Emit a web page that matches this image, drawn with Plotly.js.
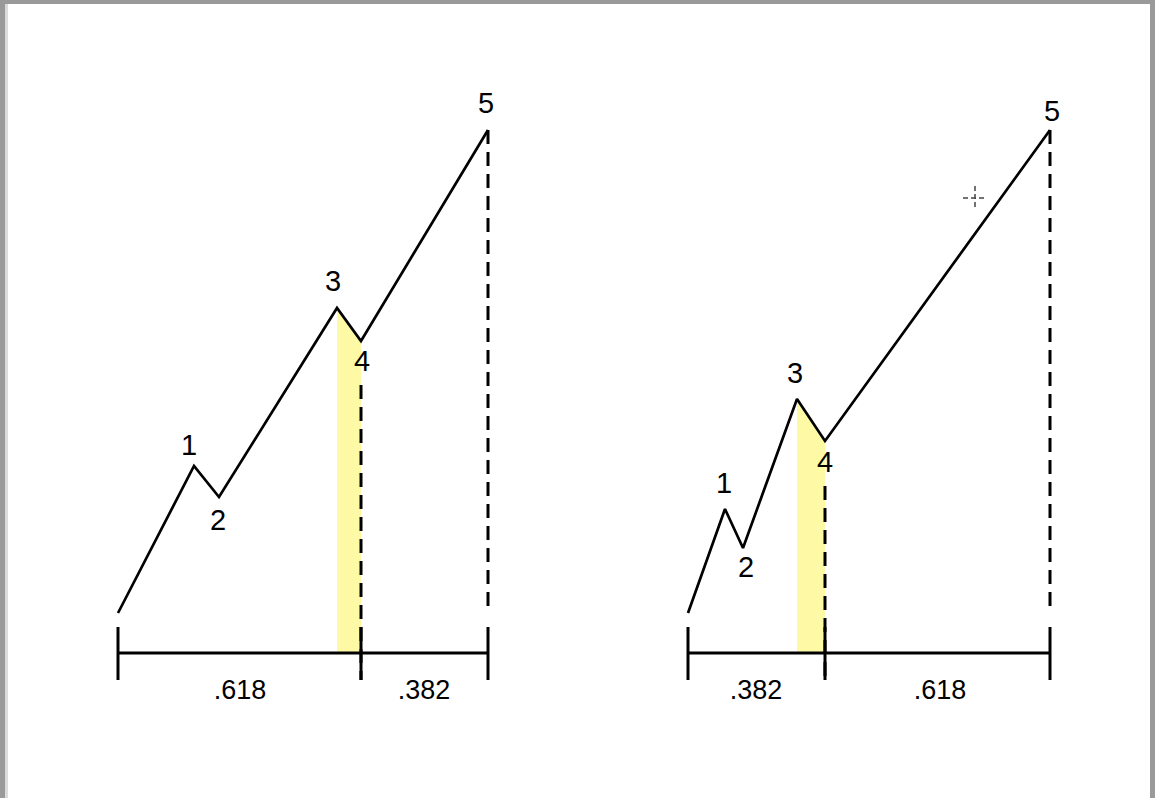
<!DOCTYPE html>
<html><head><meta charset="utf-8">
<script src="https://cdn.plot.ly/plotly-3.0.1.min.js"></script>
<style>html,body{margin:0;padding:0;background:#fff;}#chart{width:1155px;height:798px;}</style>
</head><body><div id="chart"></div>
<script>
// Left diagram (wave 4 at .618 of the total span)
const leftWaveX = [118, 194, 219, 337, 361, 488];
const leftWaveY = [613, 466, 497, 308, 341, 130];
const leftLabels = ["1", "2", "3", "4", "5"];
const leftLabelX = [189, 218, 333, 362, 486];
const leftLabelY = [448, 523, 284, 364, 106];
const leftTickX = [118, 361, 488];
const leftRatioText = [".618", ".382"];
const leftRatioX = [240, 424];

// Right diagram (wave 4 at .382 of the total span)
const rightWaveX = [688, 725, 743, 797, 825, 1050];
const rightWaveY = [613, 509, 548, 399, 441, 130];
const rightLabels = ["1", "2", "3", "4", "5"];
const rightLabelX = [724, 746, 795, 825, 1052];
const rightLabelY = [486, 570, 376, 465, 114];
const rightTickX = [688, 825, 1050];
const rightRatioText = [".382", ".618"];
const rightRatioX = [756, 940];

const baseY = 653, tickTop = 627, tickBot = 680, ratioY = 692, dashBottom = 612;

function diagram(wx, wy, lab, lx, ly, tx, rt, rx) {
  const tr = [];
  // yellow zone under wave 3-4
  tr.push({x:[wx[3], wx[4], wx[4], wx[3]], y:[wy[3], wy[4], baseY, baseY], fill:'toself',
    fillcolor:'#fdf9a4', line:{width:0}, mode:'lines', hoverinfo:'skip'});
  // dashed verticals (the wave-4 one starts just below its label)
  tr.push({x:[wx[4], wx[4]], y:[ly[3] + 21, tickBot], mode:'lines', line:{color:'#000', width:3, dash:'14px,8px'}, hoverinfo:'skip'});
  tr.push({x:[wx[5], wx[5]], y:[wy[5], dashBottom], mode:'lines', line:{color:'#000', width:3, dash:'14px,8px'}, hoverinfo:'skip'});
  // wave
  tr.push({x:wx, y:wy, mode:'lines', line:{color:'#000', width:2.7}, hoverinfo:'skip'});
  // baseline
  tr.push({x:[tx[0], tx[2]], y:[baseY, baseY], mode:'lines', line:{color:'#000', width:3}, hoverinfo:'skip'});
  // ticks
  tx.forEach(t => tr.push({x:[t, t], y:[tickTop, tickBot], mode:'lines', line:{color:'#000', width:3}, hoverinfo:'skip'}));
  // wave labels
  tr.push({x:lx, y:ly, text:lab, mode:'text', textfont:{family:'Liberation Sans, Arial', size:29, color:'#000'}, hoverinfo:'skip'});
  // ratio labels
  tr.push({x:rx, y:[ratioY, ratioY], text:rt, mode:'text', textfont:{family:'Liberation Sans, Arial', size:27, color:'#000'}, hoverinfo:'skip'});
  return tr;
}

const traces = [].concat(
  diagram(leftWaveX, leftWaveY, leftLabels, leftLabelX, leftLabelY, leftTickX, leftRatioText, leftRatioX),
  diagram(rightWaveX, rightWaveY, rightLabels, rightLabelX, rightLabelY, rightTickX, rightRatioText, rightRatioX)
);

// small cursor crosshair
const cursorX = 975, cursorY = 198;
traces.push({x:[cursorX-12, cursorX+12], y:[cursorY, cursorY], mode:'lines', line:{color:'#444', width:1.5, dash:'5px,3px'}, hoverinfo:'skip'});
traces.push({x:[cursorX, cursorX], y:[cursorY-12, cursorY+12], mode:'lines', line:{color:'#444', width:1.5, dash:'5px,3px'}, hoverinfo:'skip'});

const layout = {
  width:1155, height:798, margin:{l:0, r:0, t:0, b:0},
  paper_bgcolor:'#fff', plot_bgcolor:'#fff', showlegend:false,
  xaxis:{range:[0, 1155], visible:false, fixedrange:true},
  yaxis:{range:[798, 0], visible:false, fixedrange:true},
  shapes:[
    {type:'rect', xref:'x', yref:'y', x0:0, x1:1155, y0:0, y1:4, fillcolor:'#9a9a9a', line:{width:0}},
    {type:'rect', xref:'x', yref:'y', x0:0, x1:5, y0:0, y1:798, fillcolor:'#9a9a9a', line:{width:0}},
    {type:'rect', xref:'x', yref:'y', x0:1150, x1:1155, y0:0, y1:798, fillcolor:'#9a9a9a', line:{width:0}},
    {type:'rect', xref:'x', yref:'y', x0:5, x1:8, y0:4, y1:798, fillcolor:'#dcdcdc', line:{width:0}}
  ]
};
Plotly.newPlot('chart', traces, layout, {displayModeBar:false, staticPlot:true});
</script></body></html>
